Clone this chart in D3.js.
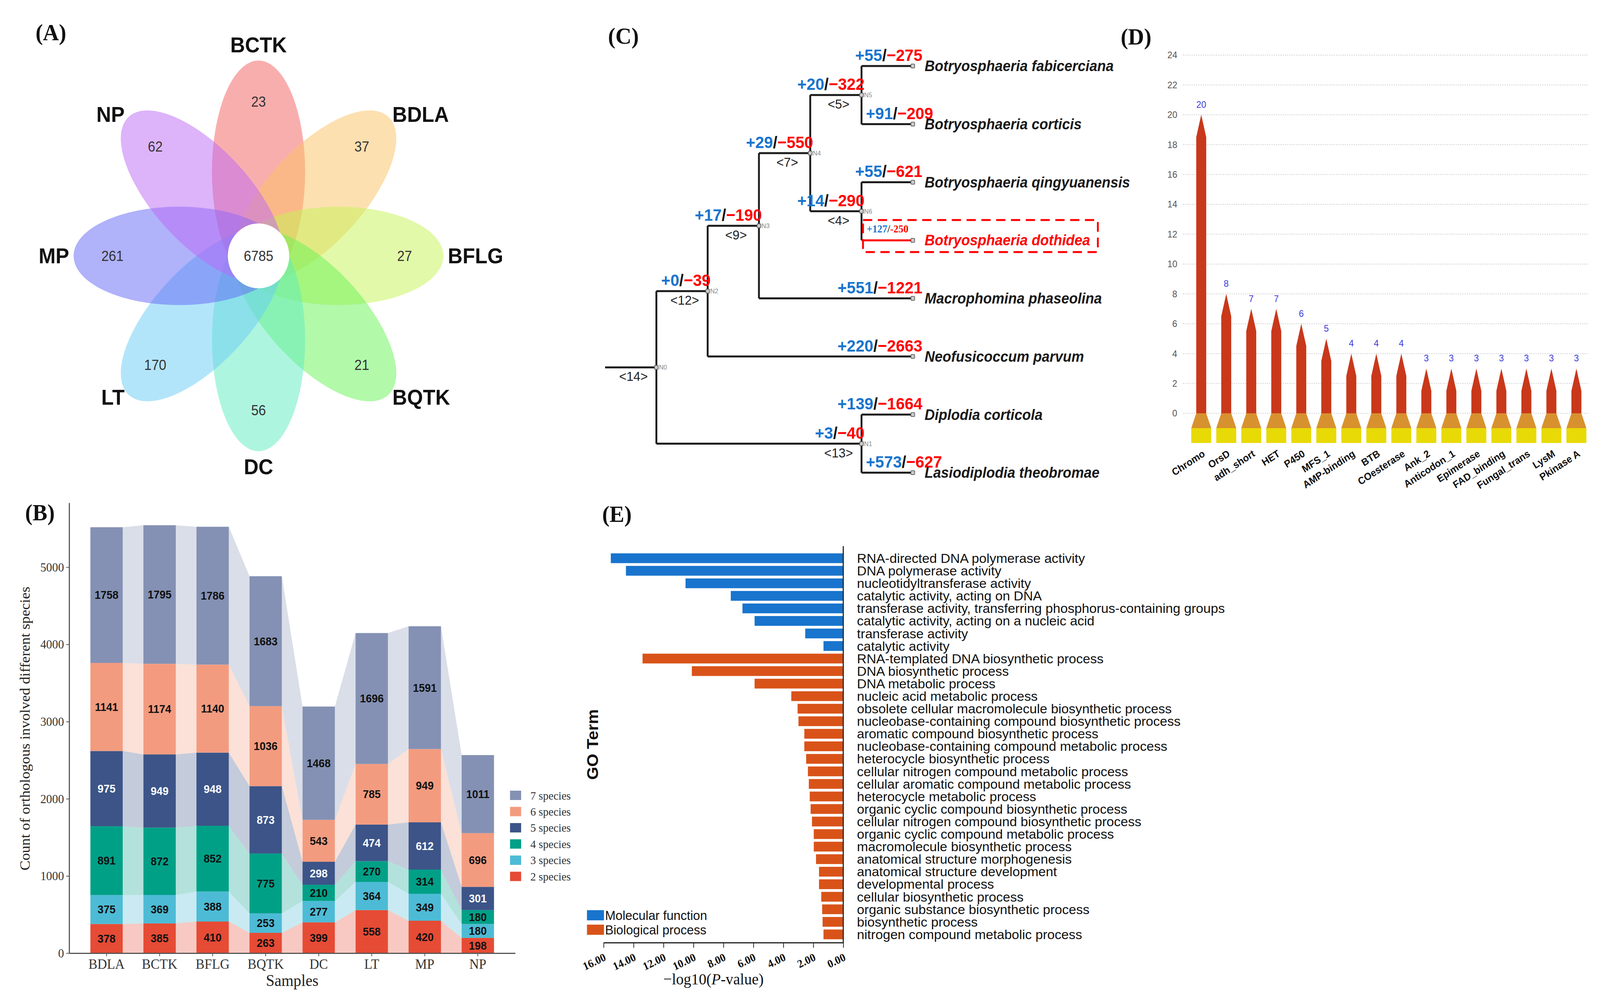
<!DOCTYPE html>
<html>
<head>
<meta charset="utf-8">
<script src="https://cdn.jsdelivr.net/npm/d3@7"></script>
<style>
html, body { margin: 0; padding: 0; background: #fff; overflow: hidden; }
svg { display: block; }
</style>
</head>
<body>
<div id="fig"></div>
<script>

// ---------- (A) flower venn ----------
var vennSets   = ["BCTK", "BDLA", "BFLG", "BQTK", "DC", "LT", "MP", "NP"];
var vennUnique = [23, 37, 27, 21, 56, 170, 261, 62];
var vennCore   = 6785;
var vennColors = ["#F35D5D", "#FBC161", "#C5F353", "#65F355", "#5DEBBF", "#67CBF5", "#6165F5", "#BB67F5"];

// ---------- (B) orthologous groups ----------
var samples = ["BDLA", "BCTK", "BFLG", "BQTK", "DC", "LT", "MP", "NP"];
var speciesGroups = ["2 species", "3 species", "4 species", "5 species", "6 species", "7 species"];
var sp2 = [378, 385, 410, 263, 399, 558, 420, 198];
var sp3 = [375, 369, 388, 253, 277, 364, 349, 180];
var sp4 = [891, 872, 852, 775, 210, 270, 314, 180];
var sp5 = [975, 949, 948, 873, 298, 474, 612, 301];
var sp6 = [1141, 1174, 1140, 1036, 543, 785, 949, 696];
var sp7 = [1758, 1795, 1786, 1683, 1468, 1696, 1591, 1011];
var groupColors = ["#E64B35", "#4DBBD5", "#00A087", "#3C5488", "#F39B7F", "#8491B4"];
var yTicksB = [0, 1000, 2000, 3000, 4000, 5000];

// ---------- (C) gene family tree ----------
var treeId     = ["N0", "N2", "N3", "N4", "N5", "Bfab", "Bcor", "N6", "Bqin", "Bdot", "Mpha", "Npar", "N1", "Dcor", "Lthe"];
var treeParent = ["", "N0", "N2", "N3", "N4", "N5", "N5", "N4", "N6", "N6", "N3", "N2", "N0", "N1", "N1"];
var treeAge    = [5, 4, 3, 2, 1, 0, 0, 1, 0, 0, 0, 0, 1, 0, 0];
var treeGain   = [null, 0, 17, 29, 20, 55, 91, 14, 55, 127, 551, 220, 3, 139, 573];
var treeLoss   = [null, 39, 190, 550, 322, 275, 209, 290, 621, 250, 1221, 2663, 40, 1664, 627];
var treeTag    = [14, 12, 9, 7, 5, null, null, 4, null, null, null, null, 13, null, null];
var speciesNames = {
  Bfab: "Botryosphaeria fabicerciana", Bcor: "Botryosphaeria corticis",
  Bqin: "Botryosphaeria qingyuanensis", Bdot: "Botryosphaeria dothidea",
  Mpha: "Macrophomina phaseolina", Npar: "Neofusicoccum parvum",
  Dcor: "Diplodia corticola", Lthe: "Lasiodiplodia theobromae"
};

// ---------- (D) expanded domains ----------
var domainNames  = ["Chromo", "OrsD", "adh_short", "HET", "P450", "MFS_1", "AMP-binding", "BTB", "COesterase",
                    "Ank_2", "Anticodon_1", "Epimerase", "FAD_binding", "Fungal_trans", "LysM", "Pkinase A"];
var domainCounts = [20, 8, 7, 7, 6, 5, 4, 4, 4, 3, 3, 3, 3, 3, 3, 3];
var yTicksD = [0, 2, 4, 6, 8, 10, 12, 14, 16, 18, 20, 22, 24];

// ---------- (E) GO enrichment ----------
var goTerms = [
  "RNA-directed DNA polymerase activity", "DNA polymerase activity", "nucleotidyltransferase activity",
  "catalytic activity, acting on DNA", "transferase activity, transferring phosphorus-containing groups",
  "catalytic activity, acting on a nucleic acid", "transferase activity", "catalytic activity",
  "RNA-templated DNA biosynthetic process", "DNA biosynthetic process", "DNA metabolic process",
  "nucleic acid metabolic process", "obsolete cellular macromolecule biosynthetic process",
  "nucleobase-containing compound biosynthetic process", "aromatic compound biosynthetic process",
  "nucleobase-containing compound metabolic process", "heterocycle biosynthetic process",
  "cellular nitrogen compound metabolic process", "cellular aromatic compound metabolic process",
  "heterocycle metabolic process", "organic cyclic compound biosynthetic process",
  "cellular nitrogen compound biosynthetic process", "organic cyclic compound metabolic process",
  "macromolecule biosynthetic process", "anatomical structure morphogenesis",
  "anatomical structure development", "developmental process", "cellular biosynthetic process",
  "organic substance biosynthetic process", "biosynthetic process", "nitrogen compound metabolic process"
];
var goValues = [15.52, 14.51, 10.53, 7.51, 6.73, 5.92, 2.54, 1.32,
                13.40, 10.11, 5.92, 3.47, 3.05, 2.99, 2.60, 2.60, 2.48, 2.36, 2.30, 2.24,
                2.18, 2.09, 1.97, 1.97, 1.82, 1.62, 1.62, 1.47, 1.41, 1.38, 1.32];
var goCategory = ["MF","MF","MF","MF","MF","MF","MF","MF",
                  "BP","BP","BP","BP","BP","BP","BP","BP","BP","BP","BP","BP",
                  "BP","BP","BP","BP","BP","BP","BP","BP","BP","BP","BP"];
var goTicks = [0, 2, 4, 6, 8, 10, 12, 14, 16];


var W = 4326, H = 2542;
var SERIF = "'Liberation Serif','Times New Roman',serif";
var SANS = "'Liberation Sans',Arial,sans-serif";

// fill the whole window whatever its css size
var svg = d3.select("#fig").append("svg")
  .attr("viewBox", "0 0 " + W + " " + H)
  .attr("preserveAspectRatio", "none")
  .style("width", "100vw").style("height", "100vh")
  .style("background", "#fff");

function panelLabel(t, x, y) {
  svg.append("text").attr("x", x).attr("y", y).text(t)
    .style("font-family", SERIF).style("font-weight", "bold").style("font-size", "60px").attr("fill", "#111");
}
panelLabel("(A)", 96, 103);
panelLabel("(B)", 68, 1332);
panelLabel("(C)", 1644, 112);
panelLabel("(D)", 3030, 114);
panelLabel("(E)", 1628, 1336);


// ===== (A) =====
var gA = svg.append("g").attr("transform", "translate(699,655)");
var petalAngle = d3.scaleLinear().domain([0, vennSets.length]).range([-90, 270]);

vennSets.forEach(function(s, i) {
  gA.append("ellipse")
    .attr("cx", 215).attr("cy", 0).attr("rx", 285).attr("ry", 126)
    .attr("transform", "rotate(" + petalAngle(i) + ")")
    .attr("fill", vennColors[i]).attr("fill-opacity", 0.5);
});
gA.append("circle").attr("r", 83).attr("fill", "#fff");
gA.append("text").attr("dy", "0.35em").attr("text-anchor", "middle").text(vennCore)
  .style("font-family", SANS).style("font-size", "36px").attr("fill", "#333");

vennSets.forEach(function(s, i) {
  var a = petalAngle(i) * Math.PI / 180;
  var c = Math.cos(a), sn = Math.sin(a);
  gA.append("text")
    .attr("x", 395 * c).attr("y", 395 * sn).attr("dy", "0.35em")
    .attr("text-anchor", "middle").text(vennUnique[i])
    .style("font-family", SANS).style("font-size", "36px").attr("fill", "#333");
  var r = Math.abs(sn) > 0.9 ? 540 : 512;
  gA.append("text")
    .attr("x", r * c).attr("y", r * sn).attr("dy", "0.35em")
    .attr("text-anchor", c > 0.2 ? "start" : (c < -0.2 ? "end" : "middle"))
    .text(s)
    .style("font-family", SANS).style("font-weight", "bold").style("font-size", "55px").attr("fill", "#111");
});


// ===== (B) =====
var rowsB = samples.map(function(s, i) {
  return { sample: s, "2 species": sp2[i], "3 species": sp3[i], "4 species": sp4[i],
           "5 species": sp5[i], "6 species": sp6[i], "7 species": sp7[i] };
});
var stackB = d3.stack().keys(speciesGroups)(rowsB);

var bX = d3.scaleBand().domain(samples).range([187, 1393]).paddingInner(0.39).paddingOuter(0.4);
var bY = d3.scaleLinear().domain([0, 5835]).range([2440, 1287]);
var bColor = d3.scaleOrdinal().domain(speciesGroups).range(groupColors);
var gB = svg.append("g");

// flows between bars
stackB.forEach(function(layer) {
  for (var i = 0; i < samples.length - 1; i++) {
    var a = layer[i], b = layer[i + 1];
    var xa = bX(samples[i]) + bX.bandwidth(), xb = bX(samples[i + 1]);
    gB.append("path")
      .attr("d", "M" + xa + "," + bY(a[0]) + "L" + xb + "," + bY(b[0]) +
                 "L" + xb + "," + bY(b[1]) + "L" + xa + "," + bY(a[1]) + "Z")
      .attr("fill", bColor(layer.key)).attr("fill-opacity", 0.3);
  }
});

stackB.forEach(function(layer, k) {
  gB.selectAll(null).data(layer).enter().append("rect")
    .attr("x", function(d) { return bX(d.data.sample); })
    .attr("width", bX.bandwidth())
    .attr("y", function(d) { return bY(d[1]); })
    .attr("height", function(d) { return bY(d[0]) - bY(d[1]); })
    .attr("fill", bColor(layer.key));
  gB.selectAll(null).data(layer).enter().append("text")
    .attr("x", function(d) { return bX(d.data.sample) + bX.bandwidth() / 2; })
    .attr("y", function(d) { return (bY(d[0]) + bY(d[1])) / 2; })
    .attr("dy", "0.35em").attr("text-anchor", "middle")
    .text(function(d) { return d[1] - d[0]; })
    .style("font-family", SANS).style("font-weight", "bold").style("font-size", "29px")
    .attr("fill", layer.key === "5 species" ? "#fff" : "#111");
});

var axYB = gB.append("g").attr("transform", "translate(187,0)")
  .call(d3.axisLeft(bY).tickValues(yTicksB).tickFormat(d3.format("d")).tickSize(8).tickSizeOuter(0).tickPadding(6));
var axXB = gB.append("g").attr("transform", "translate(0,2440)")
  .call(d3.axisBottom(bX).tickSize(8).tickSizeOuter(0).tickPadding(6));
[axYB, axXB].forEach(function(ax) {
  ax.select(".domain").attr("stroke", "#555").attr("stroke-width", 3);
  ax.selectAll(".tick line").attr("stroke", "#555").attr("stroke-width", 2);
  ax.selectAll("text").style("font-family", SERIF).attr("fill", "#333");
});
axYB.selectAll("text").style("font-size", "32px");
axXB.selectAll("text").style("font-size", "36px");

gB.append("text").attr("transform", "translate(80,1865) rotate(-90)")
  .attr("text-anchor", "middle").text("Count of orthologous involved different species")
  .style("font-family", SERIF).style("font-size", "38px").attr("fill", "#222");
gB.append("text").attr("x", 790).attr("y", 2524).attr("text-anchor", "middle").text("Samples")
  .style("font-family", SERIF).style("font-size", "42px").attr("fill", "#222");

var legB = gB.append("g").attr("transform", "translate(1379,2024)");
speciesGroups.slice().reverse().forEach(function(g, j) {
  legB.append("rect").attr("x", 0).attr("y", j * 41.5).attr("width", 30).attr("height", 24).attr("fill", bColor(g));
  legB.append("text").attr("x", 55).attr("y", j * 41.5 + 12).attr("dy", "0.35em").text(g)
    .style("font-family", SERIF).style("font-size", "30px").attr("fill", "#333");
});


// ===== (C) =====
var treeRows = treeId.map(function(id, i) {
  return { id: id, parent: treeParent[i] || null, age: treeAge[i],
           gain: treeGain[i], loss: treeLoss[i], tag: treeTag[i] };
});
var root = d3.stratify().id(function(d) { return d.id; }).parentId(function(d) { return d.parent; })(treeRows);
d3.cluster().size([8, 1]).separation(function() { return 1; })(root);

var cX = d3.scaleLinear().domain([6, 0]).range([1636, 2468]);
var cY = d3.scaleLinear().domain([0.5, 7.5]).range([169, 1210]);
var gC = svg.append("g");
var nodes = root.descendants();
nodes.forEach(function(n) { n.px = cX(n.data.age); n.py = cY(n.x); });

// root stub
gC.append("path").attr("d", "M" + cX(6) + "," + root.py + "H" + root.px)
  .attr("stroke", "#1a1a1a").attr("stroke-width", 5).attr("fill", "none");

nodes.forEach(function(n) {
  if (!n.parent) return;
  var p = n.parent;
  gC.append("path").attr("d", "M" + p.px + "," + p.py + "V" + n.py)
    .attr("stroke", "#1a1a1a").attr("stroke-width", 5).attr("fill", "none");
  gC.append("path").attr("d", "M" + p.px + "," + n.py + "H" + n.px)
    .attr("stroke", n.data.id === "Bdot" ? "#f00" : "#1a1a1a").attr("stroke-width", 5).attr("fill", "none");
});

nodes.forEach(function(n) {
  gC.append("rect").attr("x", n.px - 5).attr("y", n.py - 5).attr("width", 10).attr("height", 10).attr("rx", 2)
    .attr("fill", "#ccc").attr("stroke", "#666").attr("stroke-width", 2);
  if (n.children) {
    gC.append("text").attr("x", n.px + 7).attr("y", n.py + 6).text(n.data.id)
      .style("font-family", SANS).style("font-size", "17px").attr("fill", "#888");
  }
});

// gain / loss
nodes.forEach(function(n) {
  if (n.data.gain == null) return;
  var t;
  if (n.data.id === "Bdot") {
    t = gC.append("text").attr("x", n.parent.px + 14).attr("y", n.py - 20)
      .style("font-family", SERIF).style("font-weight", "bold").style("font-size", "27px");
    t.append("tspan").attr("fill", "#1874CD").text("+" + n.data.gain);
    t.append("tspan").attr("fill", "#333").text("/");
    t.append("tspan").attr("fill", "#f00").text("-" + n.data.loss);
    return;
  }
  var leaf = !n.children;
  // lower child of a close pair: start right of the parent's vertical line
  var lower = leaf && n.parent.data.age === 1 && n.parent.children[1] === n;
  t = gC.append("text")
    .attr("x", lower ? n.parent.px + 12 : n.px + (leaf ? 26 : 8)).attr("y", n.py - 13)
    .attr("text-anchor", lower ? "start" : "end")
    .style("font-family", SANS).style("font-weight", "bold").style("font-size", "43px");
  t.append("tspan").attr("fill", "#1874CD").text("+" + n.data.gain);
  t.append("tspan").attr("fill", "#111").text("/");
  t.append("tspan").attr("fill", "#f00").text("\u2212" + n.data.loss);
});

// branch tags
nodes.forEach(function(n) {
  if (n.data.tag == null) return;
  gC.append("text").attr("x", n.px - 62).attr("y", n.py + 35).attr("text-anchor", "middle")
    .text("<" + n.data.tag + ">")
    .style("font-family", SANS).style("font-size", "34px").attr("fill", "#222");
});

// species names
root.leaves().forEach(function(n) {
  gC.append("text").attr("x", n.px + 32).attr("y", n.py).attr("dy", "0.35em")
    .text(speciesNames[n.data.id])
    .style("font-family", SANS).style("font-weight", "bold").style("font-style", "italic").style("font-size", "38px")
    .attr("fill", n.data.id === "Bdot" ? "#f00" : "#1a1a1a");
});
var bdot = nodes.filter(function(n) { return n.data.id === "Bdot"; })[0];
gC.append("rect").attr("x", bdot.parent.px + 4).attr("y", bdot.py - 52).attr("width", 635).attr("height", 82)
  .attr("fill", "none").attr("stroke", "#f00").attr("stroke-width", 5).attr("stroke-dasharray", "25,15");


// ===== (D) =====
var dX = d3.scaleBand().domain(domainNames).range([3214, 4296]);
var dY = d3.scaleLinear().domain([0, 24]).range([1058, 141]);
var gD = svg.append("g");

gD.selectAll(".grid").data(yTicksD).enter().append("line")
  .attr("x1", 3198).attr("x2", 4294)
  .attr("y1", function(d) { return dY(d); }).attr("y2", function(d) { return dY(d); })
  .attr("stroke", "#cfcfcf").attr("stroke-width", 2).attr("stroke-dasharray", "3,3");
gD.selectAll(".ytl").data(yTicksD).enter().append("text")
  .attr("x", 3183).attr("y", function(d) { return dY(d); }).attr("dy", "0.35em")
  .attr("text-anchor", "end").text(function(d) { return d; })
  .style("font-family", SANS).style("font-size", "24px").attr("fill", "#555");

domainNames.forEach(function(name, i) {
  var v = domainCounts[i];
  var cx = dX(name) + dX.bandwidth() / 2, hw = 13.5, y0 = dY(0);
  gD.append("path")
    .attr("d", "M" + (cx - hw) + "," + y0 + "V" + dY(v - 1.5) + "L" + cx + "," + dY(v) +
               "L" + (cx + hw) + "," + dY(v - 1.5) + "V" + y0 + "Z")
    .attr("fill", "#C9381A");
  gD.append("path")
    .attr("d", "M" + (cx - hw) + "," + y0 + "L" + (cx + hw) + "," + y0 +
               "L" + (cx + 27) + "," + (y0 + 38) + "L" + (cx - 27) + "," + (y0 + 38) + "Z")
    .attr("fill", "#D8912F");
  gD.append("rect").attr("x", cx - 27).attr("y", y0 + 38).attr("width", 54).attr("height", 38)
    .attr("fill", "#E8DA06");
  gD.append("text").attr("x", cx).attr("y", dY(v) - 18).attr("text-anchor", "middle").text(v)
    .style("font-family", SANS).style("font-size", "24px").attr("fill", "#3D3DDB");
  gD.append("text").attr("transform", "translate(" + (cx + 12) + ",1166) rotate(-32)")
    .attr("text-anchor", "end").text(name)
    .style("font-family", SANS).style("font-weight", "bold").style("font-size", "26px").attr("fill", "#111");
});


// ===== (E) =====
var eX = d3.scaleLinear().domain([0, 16]).range([2280, 1632]);
var eY = d3.scaleBand().domain(goTerms).range([1413, 2408]).paddingInner(0.22).paddingOuter(0.11);
var eColor = d3.scaleOrdinal().domain(["MF", "BP"]).range(["#1874CD", "#D95319"]);
var gE = svg.append("g");

gE.selectAll(".gobar").data(goTerms).enter().append("rect")
  .attr("x", function(d, i) { return eX(goValues[i]); })
  .attr("width", function(d, i) { return eX(0) - eX(goValues[i]); })
  .attr("y", function(d) { return eY(d); })
  .attr("height", eY.bandwidth())
  .attr("fill", function(d, i) { return eColor(goCategory[i]); });

// labels a bit wider than the font, like the original's
var labE = gE.append("g").attr("transform", "translate(2317,0) scale(1.06,1)");
labE.selectAll(".golab").data(goTerms).enter().append("text")
  .attr("x", 0).attr("y", function(d) { return eY(d) + eY.bandwidth() / 2; }).attr("dy", "0.35em")
  .text(function(d) { return d; })
  .style("font-family", SANS).style("font-size", "34px").attr("fill", "#111");

gE.append("line").attr("x1", eX(0)).attr("x2", eX(0)).attr("y1", 1398).attr("y2", 2413)
  .attr("stroke", "#222").attr("stroke-width", 3);
var axE = gE.append("g").attr("transform", "translate(0,2413)")
  .call(d3.axisBottom(eX).tickValues(goTicks).tickFormat(d3.format(".2f")).tickSize(13).tickSizeOuter(0));
axE.select(".domain").attr("stroke", "#222").attr("stroke-width", 3);
axE.selectAll(".tick line").attr("stroke", "#222").attr("stroke-width", 2);
axE.selectAll("text").attr("y", 0).attr("dy", 0)
  .attr("transform", "translate(8,44) rotate(-25)").attr("text-anchor", "end")
  .style("font-family", SERIF).style("font-weight", "bold").style("font-size", "29px").attr("fill", "#111");

var xt = gE.append("text").attr("x", 1929).attr("y", 2520).attr("text-anchor", "middle")
  .style("font-family", SERIF).style("font-size", "41px").attr("fill", "#111");
xt.append("tspan").text("\u2212log10(");
xt.append("tspan").style("font-style", "italic").text("P");
xt.append("tspan").text("-value)");

gE.append("text").attr("transform", "translate(1617,1906) rotate(-90)").attr("text-anchor", "middle")
  .text("GO Term").style("font-family", SANS).style("font-weight", "bold").style("font-size", "43px").attr("fill", "#111");

var legE = [["MF", "Molecular function"], ["BP", "Biological process"]];
legE.forEach(function(l, j) {
  gE.append("rect").attr("x", 1587).attr("y", 2330 + j * 37).attr("width", 46).attr("height", 26)
    .attr("fill", eColor(l[0]));
  gE.append("text").attr("x", 1636).attr("y", 2343 + j * 37).attr("dy", "0.35em").text(l[1])
    .style("font-family", SANS).style("font-size", "34px").attr("fill", "#111");
});

</script>
</body>
</html>
